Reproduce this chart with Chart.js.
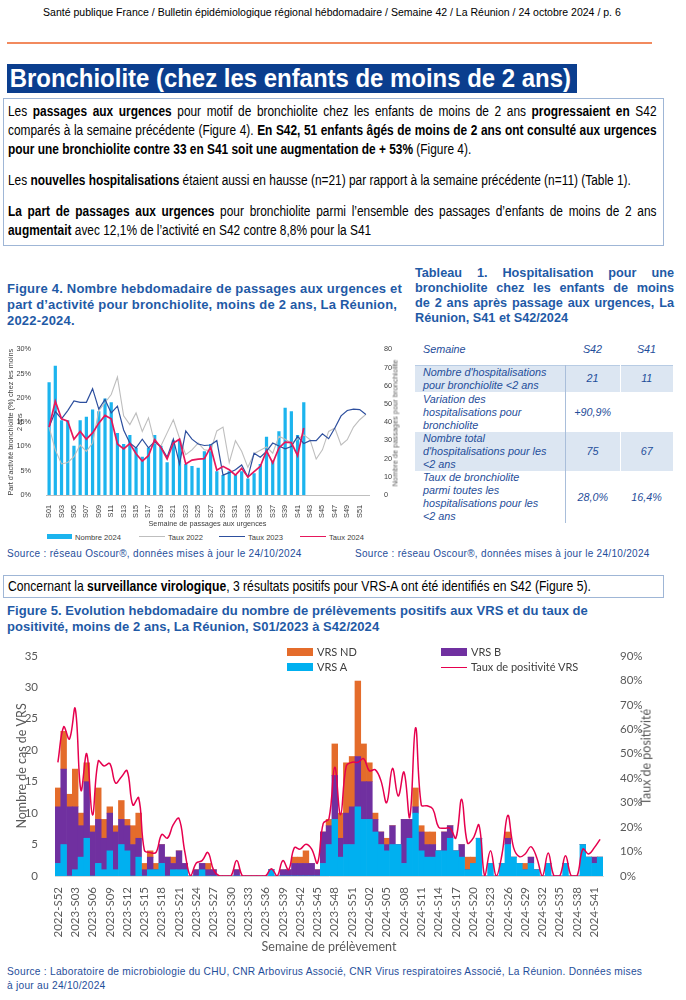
<!DOCTYPE html>
<html lang="fr">
<head>
<meta charset="utf-8">
<script src="https://cdn.jsdelivr.net/npm/chart.js@4.4.1/dist/chart.umd.min.js"></script>
<style>
  body { margin:0; width:686px; height:1000px; position:relative; overflow:hidden; background:#fff;
         font-family:"Liberation Sans",Arial,sans-serif; color:#000; }
  .abs { position:absolute; }
  /* pas d'Arial Narrow : Liberation Sans compressé horizontalement */
  .nar { transform:scaleX(0.9); transform-origin:0 0; }
  .nar85 { transform:scaleX(0.85); transform-origin:0 0; }
  #header { top:5px; left:-11px; width:762px; text-align:center; font-size:11.7px; }
  #rule { top:42px; left:7px; width:645px; height:2px; background:#F28A5E; }
  #banner { top:64px; left:7px; width:570px; height:29px; background:#0B3E8E; }
  #banner div { color:#fff; font-weight:bold; font-size:26.6px; line-height:29px; white-space:nowrap; padding-left:3px; }
  .box { border:1.5px solid #9FB6D6; box-sizing:border-box; }
  .txt { font-size:14px; line-height:19px; }
  .txt .l { white-space:nowrap; }
  .txt .j { text-align:justify; text-align-last:justify; }
  .txt .gap { margin-top:12px; }
  .ftitle { font-weight:bold; color:#1F5AA6; font-size:13px; letter-spacing:0.2px; line-height:16px; white-space:nowrap; }
  .tj div { text-align:justify; text-align-last:justify; white-space:nowrap; }
  .tj div:last-child { text-align-last:left; }
  .src { color:#1F4E9A; font-size:10px; letter-spacing:0.3px; line-height:14px; white-space:nowrap; }
  .rot { transform:translate(-50%,-50%) rotate(-90deg); white-space:nowrap; }
  #tab { border-collapse:collapse; font-style:italic; color:#1F4E9A; font-size:10.8px; line-height:13px; table-layout:fixed; }
  #tab td { padding:0; vertical-align:middle; }
  #tab td:first-child { padding-left:8px; text-align:left; border-right:1px solid #A9BEDA; }
  #tab td:nth-child(2), #tab td:nth-child(3) { text-align:center; }
  #tab tr.sh td { background:#DCE6F2; }
  #tab tr.sh td:nth-child(2) { border-right:1px solid #fff; }
  #tab tr.hd td { border-right:none; }
  #tab tr.r1 td { border-top:1.5px solid #B8CCE4; }
  .leg .it { position:absolute; white-space:nowrap; }
  #leg4 { font-size:7.6px; color:#404040; }
  #leg4 .it { line-height:10px; }
  #leg4 .sw { display:inline-block; width:25px; height:5px; margin-right:3px; vertical-align:1px; }
  #leg4 .ln { display:inline-block; width:26px; height:0; border-top:1.3px solid; margin-right:3px; vertical-align:3px; }
  #leg5 { font-family:Lato,"Open Sans",sans-serif; font-size:11px; color:#404040; }
  #leg5 .it { line-height:14px; }
  #leg5 .sw { display:inline-block; width:26px; height:8px; margin-right:4px; }
  #leg5 .ln { display:inline-block; width:26px; height:0; border-top:1.6px solid #E6004E; margin-right:4px; vertical-align:3px; }
</style>
</head>
<body>
<div id="header" class="abs nar">Santé publique France / Bulletin épidémiologique régional hébdomadaire / Semaine 42 / La Réunion / 24 octobre 2024 / p. 6</div>
<div id="rule" class="abs"></div>
<div id="banner" class="abs"><div class="nar">Bronchiolite (chez les enfants de moins de 2 ans)</div></div>

<div class="abs box" style="top:98px;left:3px;width:661px;height:148px;padding:3px 5px 0 4px;">
  <div class="nar85 txt" style="width:763px;">
    <div class="l j">Les <b>passages aux urgences</b> pour motif de bronchiolite chez les enfants de moins de 2 ans <b>progressaient en</b> S42</div>
    <div class="l j">comparés à la semaine précédente (Figure 4). <b>En S42, 51 enfants âgés de moins de 2 ans ont consulté aux urgences</b></div>
    <div class="l"><b>pour une bronchiolite contre 33 en S41 soit une augmentation de + 53%</b> (Figure 4).</div>
    <div class="l gap">Les <b>nouvelles hospitalisations</b> étaient aussi en hausse (n=21) par rapport à la semaine précédente (n=11) (Table 1).</div>
    <div class="l j gap"><b>La part de passages aux urgences</b> pour bronchiolite parmi l’ensemble des passages d’enfants de moins de 2 ans</div>
    <div class="l"><b>augmentait</b> avec 12,1% de l’activité en S42 contre 8,8% pour la S41</div>
  </div>
</div>

<div class="abs ftitle" style="top:281px;left:7px;">Figure 4. Nombre hebdomadaire de passages aux urgences et<br>part d’activité pour bronchiolite, moins de 2 ans, La Réunion,<br>2022-2024.</div>

<div class="abs ftitle tj" style="top:266px;left:415px;width:259px;font-size:12.7px;letter-spacing:0;line-height:15px;">
  <div>Tableau 1. Hospitalisation pour une</div>
  <div>bronchiolite chez les enfants de moins</div>
  <div>de 2 ans après passage aux urgences, La</div>
  <div>Réunion, S41 et S42/2024</div>
</div>

<table id="tab" class="abs" style="top:335px;left:415px;width:258px;">
  <colgroup><col style="width:150px"><col style="width:55px"><col style="width:53px"></colgroup>
  <tr class="hd" style="height:30px"><td>Semaine</td><td>S42</td><td>S41</td></tr>
  <tr class="sh r1" style="height:27px"><td>Nombre d'hospitalisations<br>pour bronchiolite &lt;2 ans</td><td>21</td><td>11</td></tr>
  <tr style="height:40px"><td>Variation des<br>hospitalisations pour<br>bronchiolite</td><td>+90,9%</td><td></td></tr>
  <tr class="sh" style="height:39px"><td>Nombre total<br>d'hospitalisations pour les<br>&lt;2 ans</td><td>75</td><td>67</td></tr>
  <tr style="height:52px"><td>Taux de bronchiolite<br>parmi toutes les<br>hospitalisations pour les<br>&lt;2 ans</td><td>28,0%</td><td>16,4%</td></tr>
</table>

<canvas id="fig4" class="abs" style="left:0;top:338px;" width="410" height="190"></canvas>
<div class="abs rot" style="left:395px;top:423px;font-size:7.4px;color:#595959;">Nombre de passages pour bronchiolite</div>
<div id="leg4" class="abs leg" style="left:0;top:0;">
  <div class="it" style="left:47px;top:533px;"><span class="sw" style="background:#1CB4EE"></span>Nombre 2024</div>
  <div class="it" style="left:139px;top:533px;"><span class="ln" style="border-color:#BEBEBE"></span>Taux 2022</div>
  <div class="it" style="left:219px;top:533px;"><span class="ln" style="border-color:#2D4F9E"></span>Taux 2023</div>
  <div class="it" style="left:300px;top:533px;"><span class="ln" style="border-color:#E6175C"></span>Taux 2024</div>
</div>

<div class="abs src" style="top:547px;left:7px;">Source : réseau Oscour®, données mises à jour le 24/10/2024</div>
<div class="abs src" style="top:547px;left:355px;">Source : réseau Oscour®, données mises à jour le 24/10/2024</div>

<div class="abs box" style="top:575px;left:3px;width:661px;height:23px;padding:1px 5px 0 4px;">
  <div class="nar85" style="width:763px;font-size:14.3px;line-height:18px;white-space:nowrap;">Concernant la <b>surveillance virologique</b>, 3 résultats positifs pour VRS-A ont été identifiés en S42 (Figure 5).</div>
</div>

<div class="abs ftitle" style="top:603px;left:7px;letter-spacing:0.05px;">Figure 5. Evolution hebdomadaire du nombre de prélèvements positifs aux VRS et du taux de<br>positivité, moins de 2 ans, La Réunion, S01/2023 à S42/2024</div>

<canvas id="fig5" class="abs" style="left:8px;top:640px;" width="648" height="318"></canvas>
<div class="abs rot" style="left:646px;top:757px;font-family:Lato,sans-serif;font-size:12.5px;color:#595959;">Taux de positivité</div>

<div id="leg5" class="abs leg" style="left:0;top:0;">
  <div class="it" style="left:287px;top:645px;"><span class="sw" style="background:#E46C2B"></span>VRS ND</div>
  <div class="it" style="left:287px;top:660px;"><span class="sw" style="background:#00B0F0"></span>VRS A</div>
  <div class="it" style="left:441px;top:645px;"><span class="sw" style="background:#7030A0"></span>VRS B</div>
  <div class="it" style="left:441px;top:660px;"><span class="ln"></span>Taux de positivité VRS</div>
</div>

<div class="abs src" style="top:965px;left:7px;font-size:10.2px;letter-spacing:0.25px;">Source : Laboratoire de microbiologie du CHU, CNR Arbovirus Associé, CNR Virus respiratoires Associé, La Réunion. Données mises<br>à jour au 24/10/2024</div>

<script>
// ---- Figure 4 : passages aux urgences pour bronchiolite (<2 ans)
const semaines4 = [];
for (let s = 1; s <= 52; s++) semaines4.push('S' + String(s).padStart(2, '0'));

const nombre2024 = [62, 71, 41, 41, 27, 41, 43, 47, 46, 53, 51, 34, 28, 33, 26, 21, 26, 33, 27, 18,
  30, 30, 17, 16, 15, 24, 28, 13, 11, 13, 11, 13, 9, 12, 17, 32, 19, 35, 48, 46, 33, 51];

const taux2022 = [14.0, 9.3, 6.4, 6.7, 7.9, 10.3, 9.0, 10.7, 17.4, 19.0, 20.7, 24.3, 16.3, 14.5, 16.9, 13.1,
  15.9, 10.7, 10.1, 12.8, 15.5, 11.7, 8.3, 9.3, 10.7, 9.3, 9.1, 13.2, 14.0, 6.7, 11.2, 9.0, 5.7, 8.5, 9.2,
  9.9, 8.6, 12.1, 11.5, 10.7, 11.5, 12.4, 11.4, 7.4, 9.3, 13.1, 13.8, 10.3, 11.4, 14.0, 15.5, 16.6];

const taux2023 = [14.0, 17.2, 15.7, 17.4, 19.4, 19.1, 19.1, 21.9, 17.7, 19.7, 16.9, 18.3, 13.4, 10.7, 9.7,
  11.5, 9.7, 11.0, 9.9, 7.8, 11.5, 6.4, 13.2, 11.5, 10.5, 10.2, 10.3, 11.2, 4.1, 4.6, 5.2, 6.2, 3.7, 8.6,
  7.8, 9.0, 10.7, 10.1, 9.5, 10.0, 12.1, 10.6, 11.2, 11.2, 12.6, 11.6, 13.8, 16.3, 17.4, 17.7, 17.6, 16.6];

const taux2024 = [14.0, 19.3, 15.7, 15.2, 11.5, 13.1, 11.5, 12.8, 14.8, 16.4, 15.7, 10.5, 9.5, 10.6, 8.5,
  7.0, 8.1, 11.4, 9.8, 7.4, 10.7, 11.5, 6.4, 7.2, 7.4, 7.5, 9.9, 5.1, 5.9, 5.2, 4.1, 5.5, 3.7, 4.8, 5.9,
  9.1, 6.6, 9.7, 10.9, 10.8, 8.1, 13.8];

// ---- Figure 5 : VRS, 2022-S52 a 2024-S42
const semaines5 = ['2022-S52'];
for (let s = 1; s <= 52; s++) semaines5.push('2023-S' + String(s).padStart(2, '0'));
for (let s = 1; s <= 42; s++) semaines5.push('2024-S' + String(s).padStart(2, '0'));

const vrsA = [2, 5, 0, 1, 3, 6, 0, 2, 1, 4, 1, 5, 4, 0, 3, 0, 1, 1, 2, 0,
  1, 1, 1, 0, 0, 1, 0, 0, 0, 0, 0, 0, 0, 0, 0, 0, 0, 1, 0, 0,
  0, 0, 0, 0, 0, 0, 2, 5, 9, 3, 5, 5, 11, 9, 9, 7, 5, 4, 5, 5,
  2, 6, 10, 4, 3, 3, 4, 4, 6, 4, 3, 1, 2, 6, 0, 2, 0, 2, 5, 3,
  2, 1, 2, 1, 0, 2, 0, 0, 2, 0, 0, 5, 3, 2, 3];

const vrsB = [9, 12, 11, 10, 5, 9, 7, 7, 5, 6, 6, 4, 4, 5, 3, 1, 2, 0, 3, 3,
  1, 3, 1, 0, 1, 1, 1, 1, 0, 0, 0, 1, 0, 0, 0, 0, 0, 0, 0, 1,
  1, 2, 2, 2, 2, 1, 5, 3, 7, 3, 5, 6, 8, 6, 6, 2, 2, 1, 3, 0,
  7, 3, 1, 3, 2, 2, 0, 3, 2, 0, 2, 0, 0, 0, 0, 0, 0, 0, 1, 0,
  0, 0, 1, 0, 0, 0, 0, 0, 0, 0, 0, 0, 0, 1, 0];

const vrsND = [3, 6, 2, 6, 2, 3, 1, 5, 3, 1, 1, 3, 1, 3, 4, 1, 1, 1, 0, 0,
  1, 0, 0, 0, 0, 0, 1, 0, 0, 0, 0, 0, 0, 0, 0, 0, 0, 0, 0, 0,
  0, 1, 1, 2, 0, 0, 0, 1, 5, 4, 8, 8, 12, 6, 3, 1, 0, 1, 0, 0,
  0, 0, 3, 1, 2, 2, 0, 0, 0, 0, 0, 2, 1, 0, 0, 0, 0, 0, 1, 0,
  0, 1, 0, 0, 0, 0, 0, 0, 0, 0, 0, 0, 0, 0, 0];

const tauxPositivite = [46.5, 61, 56, 68.5, 35, 50, 25, 47, 45, 46, 38, 40.5, 43, 29, 32, 10.5, 9.6, 9.6, 17, 15.5,
  21, 23.5, 10, 0, 5.3, 6.3, 9.6, 2.4, 0, 0, 0, 6.3, 0, 0, 0, 0, 0, 3, 0, 6.3,
  2.6, 11.6, 11, 13, 11, 5.3, 21.5, 23.5, 44.5, 25, 45, 46.5, 46.5, 48, 43, 43.5, 39, 30, 44, 32.7,
  42.5, 24, 60.6, 29, 28.7, 27.4, 20, 19.5, 19.5, 15.5, 31.4, 13.5, 15.5, 20.8, 0, 10.3, 0, 9, 24.8, 11.6,
  7.9, 9, 12, 7.6, 0, 9.4, 0, 0, 8.3, 0, 0, 11, 9, 11.6, 15];

Chart.defaults.animation = false;
Chart.defaults.responsive = false;
Chart.defaults.plugins.tooltip.enabled = false;

const f4 = { family: '"Liberation Sans", Arial, sans-serif', size: 7.3 };

new Chart(document.getElementById('fig4'), {
  data: {
    labels: semaines4,
    datasets: [
      { type: 'bar', label: 'Nombre 2024', data: nombre2024, yAxisID: 'y1', backgroundColor: '#1CB4EE',
        barPercentage: 0.52, categoryPercentage: 1, order: 10 },
      { type: 'line', label: 'Taux 2022', data: taux2022, yAxisID: 'y', borderColor: '#BEBEBE', borderWidth: 1.1,
        pointRadius: 0, order: 3 },
      { type: 'line', label: 'Taux 2023', data: taux2023, yAxisID: 'y', borderColor: '#2D4F9E', borderWidth: 1.2,
        pointRadius: 0, order: 2 },
      { type: 'line', label: 'Taux 2024', data: taux2024, yAxisID: 'y', borderColor: '#E6175C', borderWidth: 1.7,
        pointRadius: 0, order: 1 }
    ]
  },
  options: {
    layout: { padding: { top: 8, left: 0, right: 0, bottom: 0 } },
    plugins: { legend: { display: false } },
    scales: {
      x: {
        grid: { display: false },
        border: { color: '#BFBFBF' },
        ticks: { autoSkip: false, minRotation: 90, maxRotation: 90, padding: 2, font: f4, color: '#404040',
          callback: (v, i) => (i % 2 === 0 ? semaines4[i] : '') },
        title: { display: true, text: 'Semaine de passages aux urgences', font: f4, color: '#404040',
          padding: { top: 0, bottom: 0 } },
        afterFit: s => { s.height = 33; }
      },
      y: {
        position: 'left', min: 0, max: 30,
        grid: { display: false }, border: { display: false },
        ticks: { stepSize: 5, padding: 7, font: f4, color: '#404040', callback: v => v + '%' },
        title: { display: true, text: ['Part d’activité bronchiolite (%) chez les moins', '2 ans'], font: f4,
          color: '#404040', padding: { top: 7, bottom: 0 } },
        afterFit: s => { s.width = 46; }
      },
      y1: {
        position: 'right', min: 0, max: 80,
        grid: { display: false }, border: { display: false },
        ticks: { stepSize: 10, padding: 7, font: f4, color: '#404040' },
        afterFit: s => { s.width = 41; }
      }
    }
  }
});

const f5 = { family: 'Lato, "Open Sans", sans-serif', size: 11.5 };

new Chart(document.getElementById('fig5'), {
  data: {
    labels: semaines5,
    datasets: [
      { type: 'line', label: 'Taux de positivité VRS', data: tauxPositivite, yAxisID: 'y1', borderColor: '#E6004E',
        borderWidth: 1.5, pointRadius: 0, tension: 0.4, order: 0 },
      { type: 'bar', label: 'VRS A', data: vrsA, yAxisID: 'y', backgroundColor: '#00B0F0', stack: 'vrs',
        barPercentage: 1, categoryPercentage: 1, order: 1 },
      { type: 'bar', label: 'VRS B', data: vrsB, yAxisID: 'y', backgroundColor: '#7030A0', stack: 'vrs',
        barPercentage: 1, categoryPercentage: 1, order: 2 },
      { type: 'bar', label: 'VRS ND', data: vrsND, yAxisID: 'y', backgroundColor: '#E46C2B', stack: 'vrs',
        barPercentage: 1, categoryPercentage: 1, order: 3 }
    ]
  },
  options: {
    layout: { padding: { top: 2, left: 0, right: 0, bottom: 0 } },
    plugins: { legend: { display: false } },
    scales: {
      x: {
        stacked: true,
        grid: { display: false },
        border: { color: '#D9D9D9' },
        ticks: { autoSkip: false, minRotation: 90, maxRotation: 90, padding: 3, font: f5, color: '#595959',
          callback: (v, i) => (i % 3 === 0 ? semaines5[i] : '') },
        title: { display: true, text: 'Semaine de prélèvement', font: { family: f5.family, size: 12.5 },
          color: '#595959', padding: { top: 2, bottom: 4 } },
        afterFit: s => { s.height = 82; }
      },
      y: {
        stacked: true, position: 'left', min: 0, max: 35,
        grid: { display: false }, border: { display: false },
        ticks: { stepSize: 5, padding: 9, font: f5, color: '#595959' },
        title: { display: true, text: 'Nombre de cas de VRS', font: { family: f5.family, size: 12.5 },
          color: '#595959', padding: { top: 6, bottom: 0 } },
        afterFit: s => { s.width = 47; }
      },
      y1: {
        position: 'right', min: 0, max: 90,
        grid: { display: false }, border: { display: false },
        ticks: { stepSize: 10, padding: 9, font: f5, color: '#595959', callback: v => v + '%' },
        afterFit: s => { s.width = 53; }
      }
    }
  }
});
</script>
</body>
</html>
